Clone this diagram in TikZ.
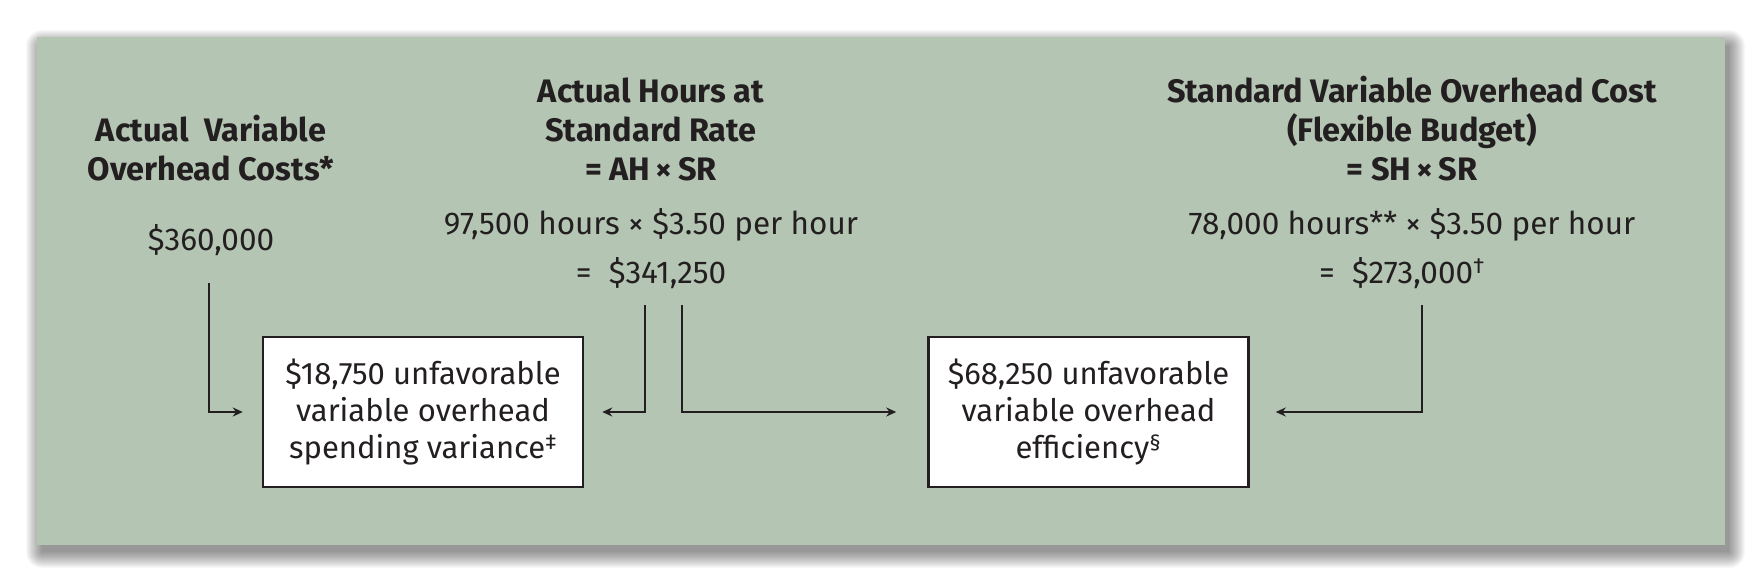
\documentclass[tikz,border=0pt]{standalone}
\usepackage{fontspec}
\setmainfont{Fira Sans}
\usetikzlibrary{arrows.meta}
\definecolor{panel}{RGB}{180,197,179}
\definecolor{ink}{RGB}{35,31,32}
\newcommand{\supmark}[1]{\textsuperscript{#1}}
\begin{document}
\begin{tikzpicture}[x=1pt,y=-1pt,
  hdr/.style={font=\bfseries\fontsize{32.5}{39}\selectfont, align=center, anchor=base, text=ink, inner sep=0pt},
  val/.style={font=\fontsize{31.5}{36}\selectfont, anchor=base, text=ink, inner sep=0pt},
  varbox/.style={draw=ink, line width=2.5pt, fill=white, minimum width=320pt, minimum height=150pt, inner sep=0pt, align=center, font=\fontsize{31}{37}\selectfont, text=ink},
  conn/.style={draw=ink, line width=2pt, -{Stealth[length=10pt,width=9pt]}}]
\useasboundingbox (0,0) rectangle (1763,583);
\fill[white] (0,0) rectangle (1763,583);
\foreach \i in {0,...,16}
  \fill[black,opacity=0.026,rounded corners=\i pt] (42-\i,46-\i) rectangle (1729+\i,552+\i);
\fill[panel] (37,37) rectangle (1725,545);

% headers (anchor base = last line)
\node[hdr] (lh) at (211,180) {Actual\ \ Variable\\Overhead Costs*};
\node[hdr] (mh) at (651,180) {Actual Hours at\\Standard Rate\\= AH\,×\,SR};
\node[hdr] (rh) at (1412,180) {Standard Variable Overhead Cost\\(Flexible Budget)\\= SH\,×\,SR};

% values
\node[val] (lv) at (211,250) {\$360,000};
\node[val] (mv) at (651,234) {97,500 hours × \$3.50 per hour};
\node[val] (mt) at (651,283) {=\hspace{0.55em}\$341,250};
\node[val] (rv) at (1412,234) {78,000 hours** × \$3.50 per hour};
\node[val] (rt) at (1402,283) {=\hspace{0.55em}\$273,000\supmark{†}};

% variance boxes
\node[varbox] (b1) at (423,412) {\$18,750 unfavorable\\variable overhead\\spending variance\supmark{‡}};
\node[varbox] (b2) at (1088.5,412) {\$68,250 unfavorable\\variable overhead\\efficiency\supmark{§}};

% connectors
\coordinate (p1) at (209,283);
\coordinate (p2) at (645,305);
\coordinate (p3) at (682,305);
\coordinate (p4) at (1422,305);
\draw[conn,shorten >=19pt] (p1) |- (b1.west);
\draw[conn,shorten >=18pt] (p2) |- (b1.east);
\draw[conn,shorten >=31pt] (p3) |- (b2.west);
\draw[conn,shorten >=26pt] (p4) |- (b2.east);
\end{tikzpicture}
\end{document}
